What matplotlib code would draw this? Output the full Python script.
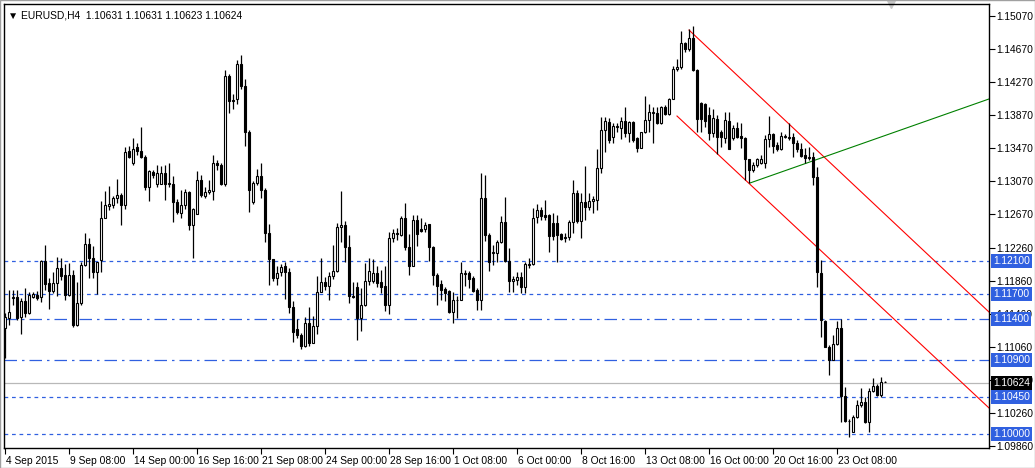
import matplotlib
matplotlib.use("Agg")
import matplotlib.pyplot as plt
import matplotlib.transforms as mt
import numpy as np

plt.rcParams['font.family'] = ['Liberation Sans', 'DejaVu Sans']

# Candle readings taken off the reference's price grid (grid reading 434 = 1.10000, 17 = 1.15070)
O_r=[328,318,298,297,317,301,313,297,295,297,261,283,291,283,268,275,295,275,325,303,265,244,258,272,260,218,206,205,198,195,205,151,163,147,151,157,187,172,184,184,173,184,184,202,213,205,192,225,214,180,196,192,191,163,165,184,77,101,100,65,87,132,
202,183,176,190,233,259,278,272,266,272,307,329,335,346,323,343,326,292,282,286,276,271,227,225,247,296,287,318,305,281,281,273,282,286,305,238,234,235,218,247,266,220,229,229,224,247,275,284,289,291,312,300,300,274,273,278,290,300,198,
235,253,253,242,222,261,281,280,277,287,265,264,217,210,215,215,223,223,234,238,237,222,193,221,202,207,201,200,168,130,122,137,127,128,121,133,122,138,148,132,120,113,113,123,108,114,100,70,68,44,50,39,71,104,105,115,133,119,132,138,121,
138,128,136,138,159,170,165,163,163,139,134,145,149,137,138,137,143,149,155,158,157,177,273,321,347,360,344,328,396,421,432,417,405,402,422,391,386,395,382]
H_r=[313,290,290,290,298,288,292,292,291,260,245,278,272,257,258,264,263,270,282,262,233,238,246,262,201,191,186,196,179,193,147,146,138,143,127,155,170,170,165,166,165,163,176,199,190,189,191,208,171,175,187,180,155,160,163,71,75,95,61,56,80,130,
181,169,163,188,224,259,266,264,262,268,301,319,333,317,307,316,276,258,277,272,245,223,191,221,235,282,282,288,263,258,259,266,270,266,232,229,228,216,203,234,215,215,218,222,224,246,273,280,287,290,292,296,262,270,271,276,288,173,175,
233,245,240,216,197,248,276,272,272,262,258,208,204,207,200,214,213,215,233,233,220,180,190,193,166,193,196,149,117,117,118,123,123,117,108,121,121,137,132,97,105,108,108,107,106,99,67,60,32,43,30,27,70,103,104,108,110,115,130,112,112,
125,122,123,137,159,162,158,155,135,116,133,142,132,134,123,133,140,143,148,147,152,167,260,320,345,335,321,319,387,419,415,400,388,397,388,378,384,377,381]
L_r=[358,325,305,320,334,317,314,298,300,302,290,309,293,296,280,300,296,327,326,305,266,278,278,294,272,218,210,208,203,225,209,158,165,155,158,190,201,178,187,184,200,187,222,214,218,209,230,258,214,197,198,194,200,170,185,186,113,110,105,90,146,212,
204,185,198,242,285,281,285,276,299,313,342,338,349,347,346,343,334,292,290,300,279,272,242,262,303,298,340,331,306,285,283,287,293,311,314,242,240,236,250,275,266,246,232,232,261,285,305,300,301,313,323,318,300,286,288,292,310,310,241,
271,265,262,243,262,292,292,285,293,293,268,265,223,220,220,252,240,262,240,242,240,233,223,238,220,210,213,210,173,152,143,143,132,139,137,142,142,152,148,133,132,143,124,124,115,115,100,72,70,53,52,72,132,132,127,140,137,154,147,143,148,
140,138,148,180,183,172,167,164,168,147,153,151,150,138,140,157,152,157,163,160,185,287,337,347,375,360,345,422,422,437,432,418,407,423,432,392,396,397,382]
C_r=[317,312,297,318,301,313,295,294,298,261,284,291,283,268,276,295,275,325,303,265,244,258,272,262,218,205,204,198,195,205,152,157,149,151,157,187,171,175,173,173,184,184,202,212,205,192,225,209,180,195,192,190,163,165,184,77,102,102,65,87,132,190,
183,176,190,233,259,278,273,267,272,307,332,335,346,323,343,326,292,282,286,276,271,227,225,247,296,297,318,305,281,271,273,283,287,305,238,233,233,218,247,266,220,234,231,225,247,275,286,290,293,312,300,300,273,273,279,291,300,198,235,
262,252,242,222,261,281,279,277,287,264,264,218,210,216,217,236,236,235,239,237,222,193,221,202,207,201,199,168,130,121,140,126,126,121,133,122,140,148,132,120,112,112,123,108,114,100,70,68,44,50,39,71,119,119,121,133,118,137,137,120,149,
128,137,138,159,170,165,159,159,139,134,146,149,136,136,137,143,149,156,158,158,177,272,320,347,360,344,328,396,421,421,417,405,402,422,391,386,395,382,382]

def to_price(a):
    a = np.asarray(a, float)
    return 1.10000 + (434 - a) * (0.05070 / 417)

op, hi, lo, cl = map(to_price, (O_r, H_r, L_r, C_r))

xlabels = ["4 Sep 2015","9 Sep 08:00","14 Sep 00:00","16 Sep 16:00","21 Sep 08:00","24 Sep 00:00",
           "28 Sep 16:00","1 Oct 08:00","6 Oct 00:00","8 Oct 16:00","13 Oct 08:00","16 Oct 00:00",
           "20 Oct 16:00","23 Oct 08:00"]
yticks = [1.15070,1.14670,1.14270,1.13870,1.13470,1.13070,1.12670,1.12260,1.11860,1.11460,1.11060,1.10660,1.10260,1.09860]
dotted_levels = [1.12100, 1.11700, 1.10450, 1.10000]
dashdot_levels = [1.11400, 1.10900]
current = 1.10624
title = "EURUSD,H4  1.10631 1.10631 1.10623 1.10624"
red_upper = ([171, 246], [1.14904, 1.11481])
red_lower = ([168, 246], [1.13860, 1.10316])
green = ([186.25, 246], [1.13047, 1.14067])

W, Hh = 1035, 468
FS = 7.4
fig = plt.figure(figsize=(W/100, Hh/100), dpi=100)
fig.patch.set_facecolor("white")
ax = fig.add_axes([4/W, (Hh-448)/Hh, 985/W, 444/Hh])
ax.set_xlim(-0.25, 246)
ax.set_ylim(1.09830, 1.15220)

blue = "#3060e0"
for lv in dotted_levels:
    ax.axhline(lv, color=blue, lw=0.9, ls=(0, (3, 3)), zorder=1)
for lv in dashdot_levels:
    ax.axhline(lv, color=blue, lw=0.9, ls=(0, (10, 4, 2, 4)), zorder=1)
ax.axhline(current, color="#b8b8b8", lw=0.9, zorder=1)

ax.plot(*red_upper, color="red", lw=0.8, zorder=2)
ax.plot(*red_lower, color="red", lw=0.8, zorder=2)
ax.plot(*green, color="green", lw=0.8, zorder=2)

x = np.arange(len(op))
ax.vlines(x, lo, hi, color="black", lw=0.9, zorder=3)
bull = cl >= op
bw = 0.7
bot = np.minimum(op, cl); height = np.maximum(np.abs(cl - op), 0.00002)
ax.bar(x[bull], height[bull], bottom=bot[bull], width=bw, facecolor="white", edgecolor="black", lw=0.8, zorder=4)
ax.bar(x[~bull], height[~bull], bottom=bot[~bull], width=bw, facecolor="black", edgecolor="black", lw=0.8, zorder=4)

ax.yaxis.tick_right()
ax.set_yticks(yticks)
ax.set_yticklabels(["%.5f" % v for v in yticks], fontsize=FS)
ax.set_xticks(np.arange(0, 16*len(xlabels), 16))
ax.set_xticklabels(xlabels, fontsize=FS, ha="left")
ax.tick_params(axis="both", length=4, width=0.8, pad=1.5, direction="out")
off = mt.ScaledTranslation(1/100, 0, fig.dpi_scale_trans)
for t in ax.get_xticklabels():
    t.set_transform(t.get_transform() + off)
for s in ax.spines.values():
    s.set_linewidth(1.0)

for lv in dotted_levels + dashdot_levels:
    ax.text(1.0045, lv, "%.5f" % lv, transform=ax.get_yaxis_transform(), fontsize=FS, color="white",
            va="center", ha="left", bbox=dict(boxstyle="square,pad=0.2", fc=blue, ec="none"), zorder=6, clip_on=False)
ax.text(1.0045, current, "%.5f" % current, transform=ax.get_yaxis_transform(), fontsize=FS, color="white",
        va="center", ha="left", bbox=dict(boxstyle="square,pad=0.2", fc="black", ec="none"), zorder=6, clip_on=False)

ax.text(0.004, 0.985, "\u25BC " + title, transform=ax.transAxes, fontsize=FS, va="top", ha="left")
ax.plot([0.9], [1.0], marker="v", color="#c8c8c8", ms=6, transform=ax.transAxes, clip_on=False)

fig.add_artist(plt.Rectangle((0, 0), 1, 1, transform=fig.transFigure, fill=False, ec="#a0a0a0", lw=1))
fig.savefig("out.png", dpi=100)
